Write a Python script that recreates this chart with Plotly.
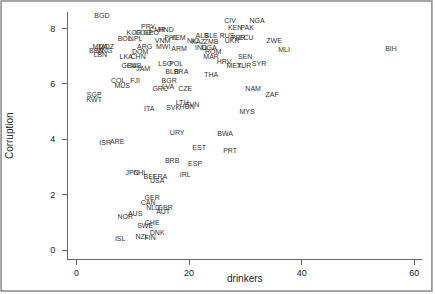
import plotly.graph_objects as go

countries = ["BGD","PRY","KOR","COG","GEO","CMR","HND","BOL","NPL","VNM","PHL","YEM",
             "NIC","KAZ","ZMB","ALB","SLE","RUS","UKR","PER","ECU","CIV","NGA","KEN","PAK",
             "ZWE","MLI","BIH","ARG","MWI","ARM","DOM","LKA","CHN","IND","UGA","ROM","MAR",
             "SEN","HRV","MEX","TUR","SYR","THA","GHA","CUB","JAM","LSO","POL","BLR","BRA",
             "BGR","MDA","MOZ","BEN","MNG","LBN","COL","FJI","MUS","GRC","LVA","CZE","SGP",
             "KWT","ITA","SVK","LTU","HUN","SVN","NAM","ZAF","MYS","URY","BWA","ISR","ARE",
             "EST","PRT","BRB","ESP","JPN","CHL","BEL","FRA","USA","IRL","GER","CAN","NLD",
             "GBR","AUT","NOR","AUS","CHE","SWE","DNK","NZL","FIN","ISL"]
drinkers = [4.51,12.73,10.24,11.84,13.26,14.33,15.92,8.56,10.51,15.30,16.81,18.05,
            20.72,21.60,23.91,22.32,23.91,26.75,27.64,28.71,30.13,27.29,32.08,28.17,30.30,
            35.10,36.87,55.87,12.11,15.39,18.23,11.31,8.82,10.95,22.14,23.56,24.27,23.91,
            29.95,26.22,28.00,29.77,32.43,23.91,9.36,10.24,11.84,15.75,17.70,16.99,18.59,
            16.46,4.21,5.27,3.50,4.92,4.21,7.40,10.42,8.11,14.86,16.28,19.30,3.14,
            3.14,12.91,17.17,18.76,19.65,20.54,31.37,34.74,30.30,17.88,26.40,5.10,7.23,
            21.78,27.29,16.99,21.07,9.89,11.31,13.08,14.86,14.33,19.30,13.44,12.73,13.62,
            15.75,15.39,8.65,10.42,13.44,12.20,14.33,11.66,13.08,7.76]
corruption = [8.42,8.03,7.83,7.83,7.83,7.92,7.92,7.61,7.61,7.54,7.65,7.65,
              7.52,7.51,7.51,7.72,7.72,7.72,7.52,7.65,7.65,8.24,8.24,8.02,8.02,
              7.52,7.22,7.24,7.30,7.30,7.25,7.12,6.94,6.94,7.27,7.27,7.12,6.94,
              6.94,6.77,6.62,6.62,6.70,6.32,6.62,6.62,6.53,6.71,6.71,6.40,6.40,
              6.10,7.33,7.33,7.18,7.18,7.04,6.10,6.10,5.92,5.81,5.88,5.81,5.59,
              5.41,5.09,5.12,5.30,5.16,5.23,5.81,5.59,4.98,4.22,4.19,3.86,3.90,
              3.68,3.57,3.21,3.10,2.78,2.78,2.63,2.63,2.49,2.71,1.88,1.70,1.52,
              1.52,1.37,1.19,1.30,0.97,0.87,0.61,0.47,0.43,0.40]

x_ticks = [0, 20, 40, 60]
y_ticks = [0, 2, 4, 6, 8]
y_tick_labels = ["0", "2", "4", "6", "8"]

fig = go.Figure()
fig.add_trace(go.Scatter(
    x=drinkers, y=corruption, text=countries, mode="text",
    textposition="middle center",
    textfont=dict(family="Liberation Sans, Arial, sans-serif", size=7, color="#333333"),
    hoverinfo="skip", showlegend=False,
))

axis_common = dict(showline=True, linecolor="#666666", linewidth=1, ticks="outside",
                   ticklen=5, tickcolor="#666666", showgrid=False, zeroline=False,
                   tickfont=dict(family="Liberation Sans, Arial, sans-serif", size=9, color="#222222"))
fig.update_xaxes(range=[-1.51, 61.37], tickvals=x_ticks, **axis_common)
fig.update_yaxes(range=[-0.325, 8.59], tickvals=y_ticks,
                 ticktext=[t + "\u00a0\u00a0" for t in y_tick_labels], **axis_common)

fig.update_layout(
    width=435, height=294,
    margin=dict(l=68, r=13, t=12, b=35),
    paper_bgcolor="white", plot_bgcolor="white",
    annotations=[
        dict(text="drinkers", xref="paper", yref="paper", x=0.5, y=-0.05,
             yanchor="top", xanchor="center", showarrow=False,
             font=dict(family="Liberation Sans, Arial, sans-serif", size=10, color="#222222")),
        dict(text="Corruption", xref="paper", yref="paper", x=-0.165, y=0.5,
             xanchor="center", yanchor="middle", textangle=-90, showarrow=False,
             font=dict(family="Liberation Sans, Arial, sans-serif", size=10, color="#222222")),
    ],
    shapes=[dict(type="rect", xref="paper", yref="paper",
                 x0=-0.189, x1=1.028, y0=-0.1296, y1=1.0445,
                 line=dict(color="#888888", width=1.5))],
)

fig.write_html("out.html")
